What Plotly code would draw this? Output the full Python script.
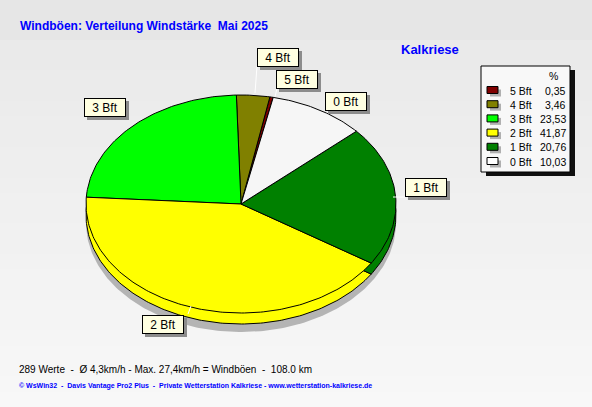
import numpy as np
import plotly.graph_objects as go

# Daten: Windstaerke-Klassen und Anteil in %
categories = ["5 Bft", "4 Bft", "3 Bft", "2 Bft", "1 Bft", "0 Bft"]
percents = [0.35, 3.46, 23.53, 41.87, 20.76, 10.03]
colors = ["#800000", "#808000", "#00ff00", "#ffff00", "#008000", "#f6f6f6"]
percent_labels = ["0,35", "3,46", "23,53", "41,87", "20,76", "10,03"]

title_text = "Windböen: Verteilung Windstärke\u00a0\u00a0Mai 2025"
station = "Kalkriese"
footer1 = ("289 Werte\u00a0\u00a0-\u00a0\u00a0Ø 4,3km/h\u00a0-\u00a0Max. 27,4km/h = Windböen"
           "\u00a0\u00a0-\u00a0\u00a0108.0 km")
footer2 = ("© WsWin32\u00a0\u00a0-\u00a0\u00a0Davis Vantage Pro2 Plus\u00a0\u00a0-\u00a0\u00a0"
           "Private Wetterstation Kalkriese - www.wetterstation-kalkriese.de")

W, H = 592, 407
cx, cy = 241, 204      # Mitte der Ellipse
a, b = 155, 109        # Halbachsen
depth = 11             # 3D-Hoehe
start = 78             # Startwinkel fuer 5 Bft

fig = go.Figure()

# Hintergrund (Kopfleiste + leichter Verlauf)
shapes = [dict(type="rect", x0=0, x1=W, y0=0, y1=40, fillcolor="#e6e6e6",
               line_width=0, layer="below")]
nb = 24
for i in range(nb):
    y0 = 40 + i * (H - 40) / nb
    g = int(234 + (248 - 234) * i / (nb - 1))
    shapes.append(dict(type="rect", x0=0, x1=W, y0=y0, y1=y0 + (H - 40) / nb + 1,
                       fillcolor=f"rgb({g},{g},{g})", line_width=0, layer="below"))


def arc(t1, t2, dy):
    t = np.radians(np.linspace(t1, t2, max(3, int(abs(t2 - t1)) + 2)))
    return cx + a * np.cos(t), cy + dy - b * np.sin(t)


# Schatten unter der Torte
sx, sy = arc(0, 360, depth + 8)
fig.add_trace(go.Scatter(x=sx, y=sy, fill="toself", fillcolor="#b4b4b4", mode="lines",
                         line=dict(width=0), hoverinfo="skip"))

# Winkel aus den Prozentwerten
angles = []
t = start
for p in percents:
    angles.append((t, t + 3.6 * p))
    t += 3.6 * p

# untere Ebene (Seitenflaeche), dann Oberseite
for dy in (depth, 0):
    for (t1, t2), col in zip(angles, colors):
        ax_, ay_ = arc(t1, t2, dy)
        xs = np.concatenate([[cx], ax_, [cx]])
        ys = np.concatenate([[cy + dy], ay_, [cy + dy]])
        fig.add_trace(go.Scatter(x=xs, y=ys, fill="toself", fillcolor=col, mode="lines",
                                 line=dict(color="black", width=1), hoverinfo="skip"))

# Beschriftungskaesten an der Torte
label_pos = {"4 Bft": (278, 57), "5 Bft": (297, 79), "0 Bft": (346, 101),
             "1 Bft": (426, 187), "2 Bft": (163, 324), "3 Bft": (105, 107)}
leaders = [((257, 66), (255, 93)), ((277, 88), (275, 97)),
           ((188, 314), (191, 306)), ((393, 197), (405, 197))]
for (x0, y0), (x1, y1) in leaders:
    shapes.append(dict(type="line", x0=x0, y0=y0, x1=x1, y1=y1,
                       line=dict(color="white", width=1), layer="above"))

annotations = []
for cat in categories:
    lx, ly = label_pos[cat]
    shapes.append(dict(type="rect", x0=lx - 18, x1=lx + 24, y0=ly - 6, y1=ly + 13,
                       fillcolor="#8c8c8c", line_width=0, layer="above"))
    annotations.append(dict(x=lx, y=ly, text=cat, showarrow=False, xref="x", yref="y",
                            width=38, height=15, borderpad=1, borderwidth=1,
                            bordercolor="black", bgcolor="#ffffe1",
                            font=dict(family="Liberation Sans", size=12, color="black")))

# Legende rechts
lx0, lx1, ly0, ly1 = 481, 570, 66, 172
shapes.append(dict(type="rect", x0=lx0 + 5, x1=lx1 + 5, y0=ly0 + 4, y1=ly1 + 4,
                   fillcolor="#101010", line_width=0, layer="above"))
shapes.append(dict(type="rect", x0=lx0, x1=lx1, y0=ly0, y1=ly1, fillcolor="#f8f8f8",
                   line=dict(color="black", width=1), layer="above"))
annotations.append(dict(x=553, y=76, text="%", showarrow=False, xref="x", yref="y",
                        font=dict(family="Liberation Sans", size=10.5, color="black")))
for i, (cat, col, pl) in enumerate(zip(categories, colors, percent_labels)):
    ry = 90.5 + i * 14.2
    shapes.append(dict(type="rect", x0=490, x1=501, y0=ry - 1, y1=ry + 6,
                       fillcolor="#b0b0b0", line_width=0, layer="above"))
    shapes.append(dict(type="rect", x0=487, x1=498, y0=ry - 4, y1=ry + 3,
                       fillcolor="white" if col == "#f6f6f6" else col,
                       line=dict(color="black", width=1), layer="above"))
    annotations.append(dict(x=508, y=ry, text=cat, showarrow=False, xref="x", yref="y",
                            xanchor="left", yanchor="middle",
                            font=dict(family="Liberation Sans", size=10.5, color="black")))
    annotations.append(dict(x=568, y=ry, text=pl, showarrow=False, xref="x", yref="y",
                            xanchor="right", yanchor="middle",
                            font=dict(family="Liberation Sans", size=10.5, color="black")))

# Titel, Station, Fusszeilen
annotations.append(dict(x=18, y=26, text="<b>" + title_text + "</b>", showarrow=False,
                        xref="x", yref="y", xanchor="left", yanchor="middle",
                        font=dict(family="Liberation Sans", size=12, color="#0000ff")))
annotations.append(dict(x=399, y=49, text="<b>" + station + "</b>", showarrow=False,
                        xref="x", yref="y", xanchor="left", yanchor="middle",
                        font=dict(family="Liberation Sans", size=13, color="#0000ff")))
annotations.append(dict(x=17, y=369, text=footer1, showarrow=False, xref="x", yref="y",
                        xanchor="left", yanchor="middle",
                        font=dict(family="Liberation Sans", size=10, color="black")))
annotations.append(dict(x=17, y=386, text="<b>" + footer2 + "</b>", showarrow=False,
                        xref="x", yref="y", xanchor="left", yanchor="middle",
                        font=dict(family="Liberation Sans", size=7, color="#0000ff")))

fig.update_layout(width=W, height=H, margin=dict(l=0, r=0, t=0, b=0),
                  paper_bgcolor="#f0f0f0", plot_bgcolor="rgba(0,0,0,0)",
                  showlegend=False, shapes=shapes, annotations=annotations,
                  xaxis=dict(range=[0, W], visible=False, fixedrange=True),
                  yaxis=dict(range=[H, 0], visible=False, fixedrange=True))

fig.write_html("out.html", config={"displayModeBar": False},
               post_script="document.body.style.margin='0';")
